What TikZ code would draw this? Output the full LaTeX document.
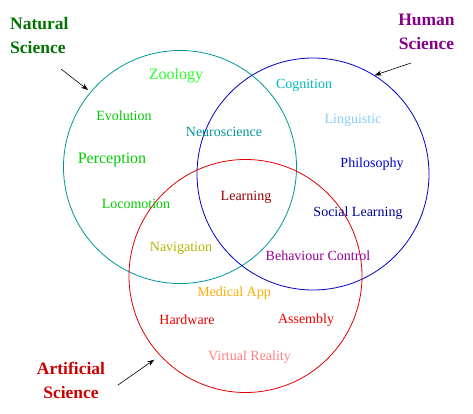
\documentclass[tikz,border=0pt]{standalone}
\usepackage{fontspec}
\setmainfont{Liberation Serif}
\usepackage{xcolor}
\usetikzlibrary{arrows.meta}
\definecolor{naturalline}{RGB}{0,150,150}
\definecolor{humanline}{RGB}{0,0,190}
\definecolor{artline}{RGB}{220,0,0}
\definecolor{naturaltitle}{RGB}{0,115,0}
\definecolor{humantitle}{RGB}{135,0,135}
\definecolor{arttitle}{RGB}{205,0,0}
\definecolor{zoocol}{RGB}{40,255,40}
\definecolor{biocol}{RGB}{0,205,0}
\definecolor{neurocol}{RGB}{0,150,150}
\definecolor{cogcol}{RGB}{0,185,185}
\definecolor{lingcol}{RGB}{135,205,255}
\definecolor{philcol}{RGB}{0,0,205}
\definecolor{socialcol}{RGB}{0,0,150}
\definecolor{learncol}{RGB}{150,0,0}
\definecolor{navcol}{RGB}{180,180,0}
\definecolor{behavcol}{RGB}{150,0,150}
\definecolor{medcol}{RGB}{255,170,0}
\definecolor{hardcol}{RGB}{235,0,0}
\definecolor{vrcol}{RGB}{255,128,128}

\begin{document}
\begin{tikzpicture}[
    x=1pt, y=1pt,
    font=\fontsize{14}{16}\selectfont,
    field/.style={circle, draw, line width=0.8pt, inner sep=0pt, minimum size=233pt},
    topic/.style={inner sep=0pt},
    bigtopic/.style={inner sep=0pt, font=\fontsize{16}{19}\selectfont},
    title/.style={inner sep=0pt, align=center, font=\fontsize{17.5}{24}\bfseries\selectfont},
    arrow/.style={-{Stealth[length=7pt,width=5pt]}, draw=black, line width=0.6pt}
  ]
    \useasboundingbox (0,0) rectangle (473,413);

    \node[field, draw=naturalline] (natural) at (180,246) {};
    \node[field, draw=humanline, minimum size=232pt] (human) at (313,239) {};
    \node[field, draw=artline] (artificial) at (245.5,137) {};

    \node[title, text=naturaltitle, align=left, anchor=west] (nattitle) at (10,377) {Natural\\Science};
    \node[title, text=humantitle] (humtitle) at (426.5,381) {Human\\Science};
    \node[title, text=arttitle] (arttitle) at (71,33) {Artificial\\Science};

    \node[bigtopic, text=zoocol] (zoology) at (176,337) {Zoology};
    \node[topic, text=biocol] (evolution) at (124,297) {Evolution};
    \node[topic, text=neurocol] (neuro) at (224,281) {Neuroscience};
    \node[bigtopic, text=biocol] (perception) at (112,253) {Perception};
    \node[topic, text=biocol] (locomotion) at (136,209) {Locomotion};
    \node[topic, text=learncol] (learning) at (246,216) {Learning};
    \node[topic, text=cogcol] (cognition) at (304,328) {Cognition};
    \node[topic, text=lingcol] (linguistic) at (353,293) {Linguistic};
    \node[topic, text=philcol] (philosophy) at (372,249) {Philosophy};
    \node[topic, text=socialcol] (social) at (358,200) {Social Learning};
    \node[topic, text=navcol] (navigation) at (181,165) {Navigation};
    \node[topic, text=behavcol] (behaviour) at (318,157) {Behaviour Control};
    \node[topic, text=medcol] (medical) at (234,120) {Medical App};
    \node[topic, text=hardcol] (hardware) at (187,93) {Hardware};
    \node[topic, text=hardcol] (assembly) at (306,93) {Assembly};
    \node[topic, text=vrcol] (vr) at (249.5,56) {Virtual Reality};

    \coordinate (nattail) at (61,344);
    \coordinate (humtail) at (411,350);
    \coordinate (arttail) at (118,28);
    \draw[arrow, shorten >=3pt] (nattail) -- (natural.140);
    \draw[arrow] (humtail) -- (human.58);
    \draw[arrow, shorten >=7pt] (arttail) -- (artificial.223);
  \end{tikzpicture}
\end{document}
